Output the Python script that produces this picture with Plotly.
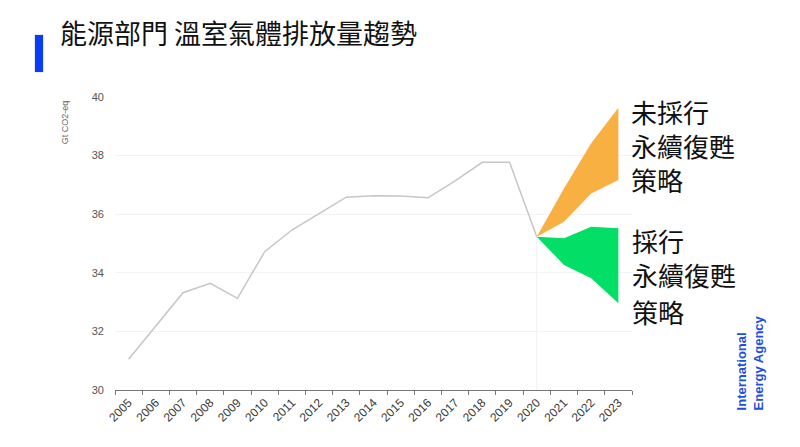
import plotly.graph_objects as go

# historical emissions, Gt CO2-eq
years = [str(y) for y in range(2005, 2024)]
hist_years = years[:16]  # 2005 - 2020
hist_values = [31.05, 32.2, 33.32, 33.64, 33.13, 34.72, 35.46, 36.02, 36.58,
               36.63, 36.62, 36.56, 37.14, 37.77, 37.77, 35.23]

# fan from 2020 onwards
fan_years = ['2020', '2021', '2022', '2023']
no_policy_low = [35.23, 35.74, 36.71, 37.17]
no_policy_high = [35.23, 36.88, 38.42, 39.63]
policy_low = [35.23, 34.27, 33.81, 32.96]
policy_high = [35.23, 35.18, 35.57, 35.52]

y_ticks = [30, 32, 34, 36, 38, 40]

title_text = '能源部門 溫室氣體排放量趨勢'
no_policy_label = '未採行<br>永續復甦<br>策略'
policy_label_top = '採行<br>永續復甦'
policy_label_bottom = '策略'
unit_label = 'Gt CO2-eq'
source_label = 'International<br>Energy Agency'

ORANGE = '#F9B043'
GREEN = '#03DE66'
CJK = 'Noto Sans CJK TC'
LATIN = 'Liberation Sans, Arial, sans-serif'

fig = go.Figure()

# orange band (no sustainable recovery)
fig.add_trace(go.Scatter(x=fan_years, y=no_policy_low, mode='lines',
                         line=dict(width=0, color=ORANGE), showlegend=False,
                         hoverinfo='skip'))
fig.add_trace(go.Scatter(x=fan_years, y=no_policy_high, mode='lines',
                         line=dict(width=0, color=ORANGE), fill='tonexty',
                         fillcolor=ORANGE, showlegend=False))

# green band (sustainable recovery)
fig.add_trace(go.Scatter(x=fan_years, y=policy_low, mode='lines',
                         line=dict(width=0, color=GREEN), showlegend=False,
                         hoverinfo='skip'))
fig.add_trace(go.Scatter(x=fan_years, y=policy_high, mode='lines',
                         line=dict(width=0, color=GREEN), fill='tonexty',
                         fillcolor=GREEN, showlegend=False))

# history line
fig.add_trace(go.Scatter(x=hist_years, y=hist_values, mode='lines',
                         line=dict(color='#C6C6C6', width=1.5),
                         showlegend=False))

# faint marker line at 2020 (category index, shapes read numbers as indices)
i2020 = years.index(hist_years[-1])
fig.add_shape(type='line', xref='x', yref='y', x0=i2020, x1=i2020,
              y0=y_ticks[0], y1=hist_values[-1],
              line=dict(color='#F0F0F0', width=1), layer='below')

# blue accent bar next to the title
fig.add_shape(type='rect', xref='paper', yref='paper',
              x0=-0.155, x1=-0.139, y0=1.085, y1=1.212,
              fillcolor='#0A3DF0', line=dict(width=0))

annotations = [
    dict(text=no_policy_label, x=0.994, y=0.834, xanchor='left',
         yanchor='middle', align='left',
         font=dict(family=CJK, size=26, color='#111111')),
    dict(text=policy_label_top, x=0.996, y=0.452, xanchor='left',
         yanchor='middle', align='left',
         font=dict(family=CJK, size=26, color='#111111')),
    dict(text=policy_label_bottom, x=0.996, y=0.267, xanchor='left',
         yanchor='middle', align='left',
         font=dict(family=CJK, size=26, color='#111111')),
    dict(text=unit_label, x=-0.095, y=0.995, xanchor='center', yanchor='top',
         textangle=-90, font=dict(family=LATIN, size=9, color='#666666')),
    dict(text='<b>' + source_label + '</b>', x=1.23, y=-0.075,
         xanchor='center', yanchor='bottom', textangle=-90, align='left',
         font=dict(family=LATIN, size=13, color='#1D4FE0')),
]
for a in annotations:
    a.update(xref='paper', yref='paper', showarrow=False)

# the page adds an 8px body margin, so the margins are shifted to compensate
fig.update_layout(
    width=800, height=447,
    margin=dict(l=107, r=176, t=89, b=65),
    paper_bgcolor='white', plot_bgcolor='white',
    title=dict(text=title_text, x=0.065, xanchor='left', y=0.94,
               yanchor='middle', xref='container', yref='container',
               font=dict(family=CJK, size=27, color='#111111')),
    annotations=annotations,
    xaxis=dict(type='category', categoryorder='array', categoryarray=years,
               range=[-0.5, len(years) - 0.5],
               tickangle=-45, tickson='boundaries', ticks='outside',
               ticklen=4, tickcolor='#777777', showline=True,
               linecolor='#777777', linewidth=1, showgrid=False,
               tickfont=dict(family=LATIN, size=12, color='#3a3a3a')),
    yaxis=dict(range=[30, 40], tickvals=y_ticks, showgrid=True,
               gridcolor='#F3F3F3', zeroline=False, ticks='',
               ticklabelstandoff=10,
               tickfont=dict(family=LATIN, size=11, color='#555555')),
    showlegend=False,
)

fig.write_html('out.html')
